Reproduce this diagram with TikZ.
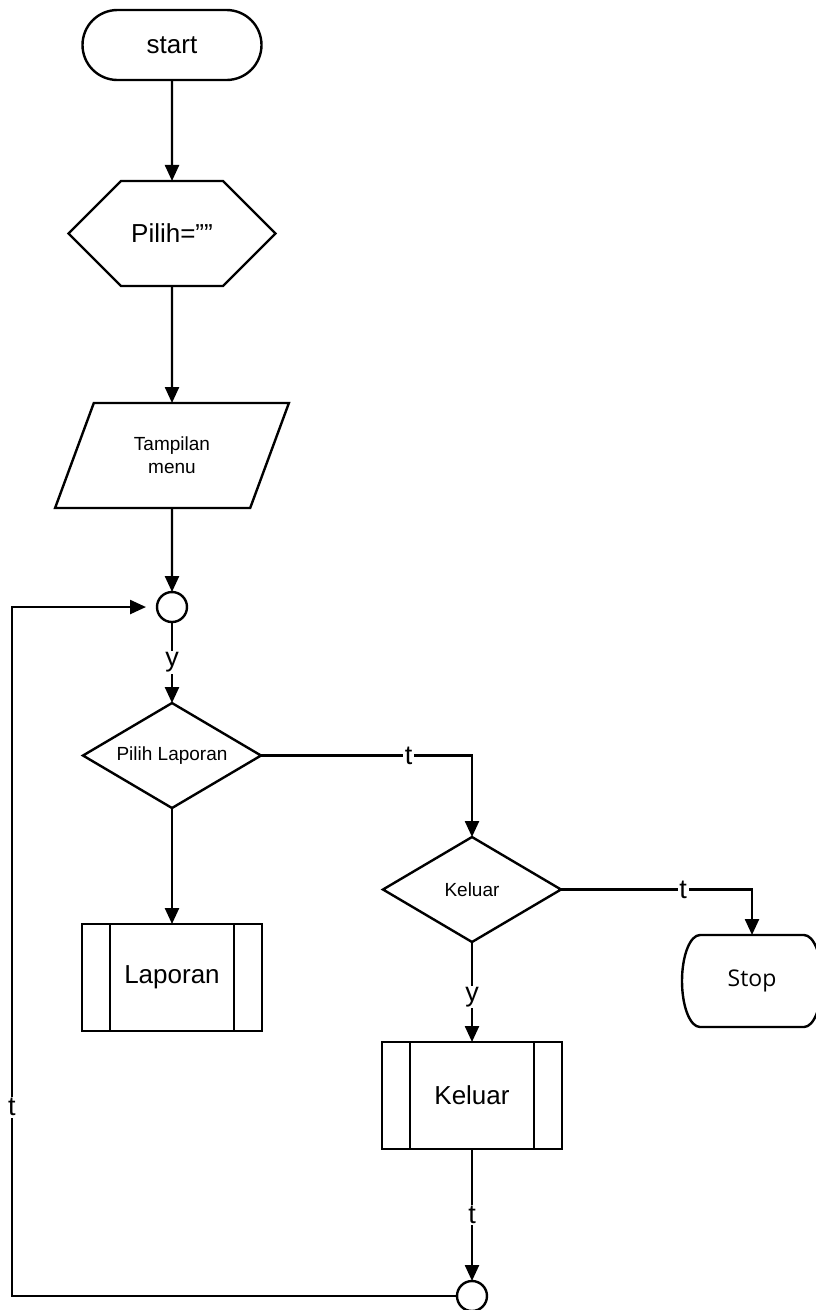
\documentclass[tikz,border=0pt]{standalone}
\usepackage{fontspec}
\setmainfont{Liberation Sans}
\newfontfamily\stopfont{Open Sans}
\usetikzlibrary{arrows.meta,positioning,shapes.geometric,shapes.symbols}
\tikzset{
	flow/.style={line width=2.4pt, draw=black},
	arr/.style={flow, -{Triangle[length=16pt,width=14pt]}},
	term/.style={flow, outer sep=0pt, rounded corners=35pt, minimum width=179pt, minimum height=70pt,
		inner sep=0pt, font=\fontsize{26}{30}\selectfont},
	prep/.style={flow, outer sep=0pt, signal, signal to=west and east, signal pointer angle=90,
		minimum width=207pt, minimum height=105pt, inner sep=0pt, font=\fontsize{26}{30}\selectfont},
	io/.style={flow, outer sep=0pt, trapezium, trapezium left angle=63, trapezium right angle=117,
		trapezium stretches=true, minimum width=234pt, minimum height=105pt, inner sep=0pt,
		align=center, font=\fontsize{19}{23}\selectfont},
	conn/.style={flow, outer sep=0pt, circle, minimum size=30pt, inner sep=0pt},
	decision/.style={flow, outer sep=0pt, diamond, aspect=1.7, minimum width=178pt, minimum height=105pt,
		inner sep=0pt, font=\fontsize{19}{22}\selectfont},
	proc/.style={flow, outer sep=0pt, rectangle, minimum width=180pt, minimum height=107pt, inner sep=0pt,
		font=\fontsize{26}{30}\selectfont,
		path picture={
			\draw[line width=2.4pt] ([xshift=28pt]path picture bounding box.north west) -- ([xshift=28pt]path picture bounding box.south west);
			\draw[line width=2.4pt] ([xshift=-28pt]path picture bounding box.north east) -- ([xshift=-28pt]path picture bounding box.south east);
		}},
	stopbox/.style={outer sep=0pt, rectangle, minimum width=140pt, minimum height=92pt, inner sep=0pt,
		font=\stopfont\fontsize{23}{26}\selectfont},
	lab/.style={fill=white, inner sep=1.5pt, font=\fontsize{27}{30}\selectfont}
}
\begin{document}
\begin{tikzpicture}[x=1pt, y=-1pt]
	\useasboundingbox (0,0) rectangle (816,1310);
	% main column
	\node[term] (start) at (172,45) {start};
	\node[prep, below=101pt of start] (pilih) {Pilih=””};
	\node[io, below=117pt of pilih] (menu) {Tampilan\\menu};
	\node[conn, below=84pt of menu] (c1) {};
	\node[decision, below=81pt of c1] (d1) {Pilih Laporan};
	\node[proc, below=116pt of d1] (lap) {Laporan};
	% right branch
	\node[decision] (d2) at (472,889.5) {Keluar};
	\node[proc, below=100pt of d2] (kbox) {Keluar};
	\node[conn, below=132pt of kbox] (c2) {};
	\node[stopbox] (stop) at (752,981) {Stop};
	\draw[flow] ([xshift=18pt]stop.north west) -- ([xshift=-18pt]stop.north east)
		arc[start angle=90, end angle=-90, x radius=18pt, y radius=46pt]
		-- ([xshift=18pt]stop.south west)
		arc[start angle=270, end angle=90, x radius=18pt, y radius=46pt] -- cycle;
	\coordinate (back) at (12,0);
	\draw[arr] (start) -- (pilih);
	\draw[arr] (pilih) -- (menu);
	\draw[arr] (menu) -- (c1);
	\draw[arr] (c1) -- node[lab]{y} (d1);
	\draw[arr] (d1) -- (lap);
	\draw[arr] (d1.east) -| node[lab, pos=0.35]{t} (d2.north);
	\draw[arr] (d2.east) -| node[lab, pos=0.32]{t} (stop.north);
	\draw[arr] (d2) -- node[lab, pos=0.55]{y} (kbox);
	\draw[arr] (kbox) -- node[lab]{t} (c2);
	\draw[arr, shorten >=11pt] (c2.west) -- (c2.west -| back) |- node[lab, pos=0.137]{t} (c1.west);
\end{tikzpicture}
\end{document}
